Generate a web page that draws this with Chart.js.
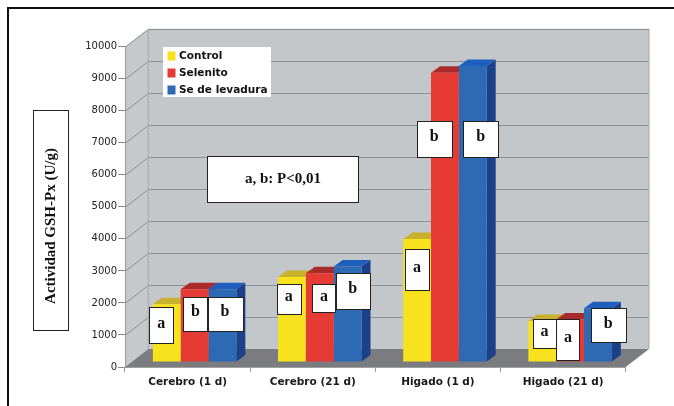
<!DOCTYPE html>
<html>
<head>
<meta charset="utf-8">
<script src="https://cdn.jsdelivr.net/npm/chart.js@4.4.0/dist/chart.umd.min.js"></script>
<style>
  html, body { margin: 0; padding: 0; background: #fff; }
  #wrap { width: 674px; height: 406px; }
</style>
</head>
<body>
<div id="wrap"><canvas id="myChart"></canvas></div>
<script>
// data
const categories = ['Cerebro (1 d)', 'Cerebro (21 d)', 'Higado (1 d)', 'Higado (21 d)'];
const seriesNames = ['Control', 'Selenito', 'Se de levadura'];
const controlValues = [1800, 2650, 3840, 1280];
const selenitoValues = [2270, 2770, 9030, 1330];
const levaduraValues = [2270, 2980, 9240, 1680];
const controlLetters = ['a', 'a', 'a', 'a'];
const selenitoLetters = ['b', 'a', 'b', 'a'];
const levaduraLetters = ['b', 'b', 'b', 'b'];
const yMin = 0, yMax = 10000, yStep = 1000;
const yTitle = 'Actividad GSH-Px (U/g)';
const noteText = 'a, b: P<0,01';

// colours: front, top, side
const colours = [
  ['#f8e21e', '#c8b12c', '#b59e1c'],
  ['#e63a35', '#a92b2b', '#9a2222'],
  ['#2e69b3', '#1e5ebd', '#1a4189']
];

// 3d look
const depth = { x: 23.3, y: -18 };     // back wall offset
const barShift = { x: 7, y: -5 };      // bars sit a bit behind the front edge
const barSide = { x: 9, y: -6.5 };     // thickness of each bar

// letter boxes: [x shift from bar centre, centre on y axis, width, height]
const boxLayout = [
  [[-5.5, 1296, 24, 36], [-3.2, 2114, 24, 30], [-0.2, 3038, 24, 41], [2.3, 1037, 23, 29]],
  [[0.9, 1664, 24, 34], [4.2, 2139, 23, 28], [-10.8, 7125, 35, 36], [-2.2, 852, 23, 41]],
  [[2.6, 1664, 35, 34], [5.2, 2379, 34, 36], [8, 7125, 35, 36], [10.3, 1296, 35, 34]]
];
const letters = [controlLetters, selenitoLetters, levaduraLetters];

function poly(ctx, pts, fill) {
  ctx.beginPath();
  ctx.moveTo(pts[0][0], pts[0][1]);
  for (let i = 1; i < pts.length; i++) ctx.lineTo(pts[i][0], pts[i][1]);
  ctx.closePath();
  ctx.fillStyle = fill;
  ctx.fill();
}

const scenePlugin = {
  id: 'scene',
  beforeDraw(chart) {
    const ctx = chart.ctx;
    const a = chart.chartArea;
    const ys = chart.scales.y;
    const L = a.left, R = a.right, T = a.top, B = a.bottom;
    const dx = depth.x, dy = depth.y;
    ctx.save();
    // outer frame
    ctx.strokeStyle = '#111';
    ctx.lineWidth = 2;
    ctx.beginPath();
    ctx.moveTo(8, 406); ctx.lineTo(8, 8); ctx.lineTo(674, 8);
    ctx.stroke();

    // walls
    poly(ctx, [[L, T], [L + dx, T + dy], [L + dx, B + dy], [L, B]], '#c5c9cc');
    poly(ctx, [[L + dx, T + dy], [R + dx, T + dy], [R + dx, B + dy], [L + dx, B + dy]], '#c3c7ca');

    // grid lines
    ctx.strokeStyle = '#8d9195';
    ctx.lineWidth = 1;
    for (let v = yMin + yStep; v <= yMax; v += yStep) {
      const y = Math.round(ys.getPixelForValue(v)) + 0.5;
      ctx.beginPath();
      ctx.moveTo(L, y);
      ctx.lineTo(L + dx, y + dy);
      ctx.lineTo(R + dx, y + dy);
      ctx.stroke();
    }
    ctx.strokeStyle = '#a4a8ab';
    ctx.beginPath();
    ctx.moveTo(L + dx, B + dy); ctx.lineTo(L + dx, T + dy);
    ctx.moveTo(R + dx, T + dy); ctx.lineTo(R + dx, B + dy);
    ctx.stroke();

    // floor
    poly(ctx, [[L, B], [L + dx, B + dy], [R + dx, B + dy], [R, B]], '#7a7c7f');
    ctx.restore();
  },
  beforeDatasetsDraw(chart) {
    const ctx = chart.ctx;
    ctx.save();
    ctx.translate(barShift.x, barShift.y);
    // tops and sides first, fronts are drawn by the library afterwards
    chart.data.datasets.forEach((ds, di) => {
      chart.getDatasetMeta(di).data.forEach(bar => {
        const p = bar.getProps(['x', 'y', 'base', 'width'], true);
        const l = p.x - p.width / 2, r = p.x + p.width / 2;
        const sx = barSide.x, sy = barSide.y;
        poly(ctx, [[r, p.y], [r + sx, p.y + sy], [r + sx, p.base + sy], [r, p.base]], colours[di][2]);
        poly(ctx, [[l, p.y], [l + sx, p.y + sy], [r + sx, p.y + sy], [r, p.y]], colours[di][1]);
      });
    });
  },
  afterDatasetsDraw(chart) {
    chart.ctx.restore();
  },
  afterDraw(chart) {
    const ctx = chart.ctx;
    const ys = chart.scales.y;
    ctx.save();

    // significance letters
    ctx.textAlign = 'center';
    ctx.textBaseline = 'middle';
    ctx.font = 'bold 16px "Liberation Serif", "Times New Roman", serif';
    chart.data.datasets.forEach((ds, di) => {
      chart.getDatasetMeta(di).data.forEach((bar, ci) => {
        const [ox, vy, w, h] = boxLayout[di][ci];
        const cx = bar.x + barShift.x + ox;
        const cy = ys.getPixelForValue(vy);
        const x0 = Math.round(cx - w / 2) + 0.5, y0 = Math.round(cy - h / 2) + 0.5;
        ctx.fillStyle = '#fff';
        ctx.fillRect(x0, y0, w, h);
        ctx.strokeStyle = '#222';
        ctx.lineWidth = 1;
        ctx.strokeRect(x0, y0, w, h);
        ctx.fillStyle = '#111';
        ctx.fillText(letters[di][ci], cx, cy - 2);
      });
    });

    // note box
    ctx.font = 'bold 15px "Liberation Serif", "Times New Roman", serif';
    ctx.fillStyle = '#fff';
    ctx.fillRect(207.5, 156.5, 151, 46);
    ctx.strokeStyle = '#222';
    ctx.strokeRect(207.5, 156.5, 151, 46);
    ctx.fillStyle = '#111';
    ctx.fillText(noteText, 283, 179);

    // y title box
    ctx.strokeRect(33.5, 110.5, 35, 220);
    ctx.save();
    ctx.translate(51.5, 226);
    ctx.rotate(-Math.PI / 2);
    ctx.fillText(yTitle, 0, 0);
    ctx.restore();

    // legend
    ctx.fillStyle = '#fff';
    ctx.fillRect(163, 47, 108, 50);
    ctx.textAlign = 'left';
    ctx.font = 'bold 10.5px "DejaVu Sans", Verdana, sans-serif';
    seriesNames.forEach((name, i) => {
      const cy = 56 + i * 17;
      ctx.fillStyle = colours[i][0];
      ctx.fillRect(167.5, cy - 4.5, 8, 9);
      ctx.fillStyle = '#111';
      ctx.fillText(name, 179, cy + 0.5);
    });
    ctx.restore();
  }
};

const ctx = document.getElementById('myChart');

new Chart(ctx, {
  type: 'bar',
  data: {
    labels: categories,
    datasets: [
      { label: seriesNames[0], data: controlValues, backgroundColor: colours[0][0] },
      { label: seriesNames[1], data: selenitoValues, backgroundColor: colours[1][0] },
      { label: seriesNames[2], data: levaduraValues, backgroundColor: colours[2][0] }
    ]
  },
  options: {
    responsive: true,
    maintainAspectRatio: false,
    animation: false,
    events: [],
    datasets: {
      bar: { categoryPercentage: 0.667, barPercentage: 1.0, borderWidth: 0 }
    },
    layout: {
      padding: { left: 0, right: 48.3, top: 46.7, bottom: 0 }
    },
    scales: {
      x: {
        afterFit: s => { s.height = 39; },
        grid: { offset: true, drawOnChartArea: false, tickLength: 5, tickColor: '#999' },
        border: { color: '#a0a0a0' },
        ticks: {
          color: '#1a1a1a',
          padding: 4,
          maxRotation: 0,
          font: { family: '"DejaVu Sans", Verdana, sans-serif', size: 10.5, weight: 'bold' }
        }
      },
      y: {
        min: yMin,
        max: yMax,
        afterFit: s => { s.width = 125; },
        grid: { drawOnChartArea: false, tickLength: 7, tickColor: '#888' },
        border: { color: '#999' },
        ticks: {
          stepSize: yStep,
          color: '#222',
          padding: 1,
          callback: v => String(v),   // no thousand separators
          font: { family: '"DejaVu Sans", Verdana, sans-serif', size: 10 }
        }
      }
    },
    plugins: {
      legend: { display: false },
      tooltip: { enabled: false },
      title: { display: false }
    }
  },
  plugins: [scenePlugin]
});
</script>
</body>
</html>
